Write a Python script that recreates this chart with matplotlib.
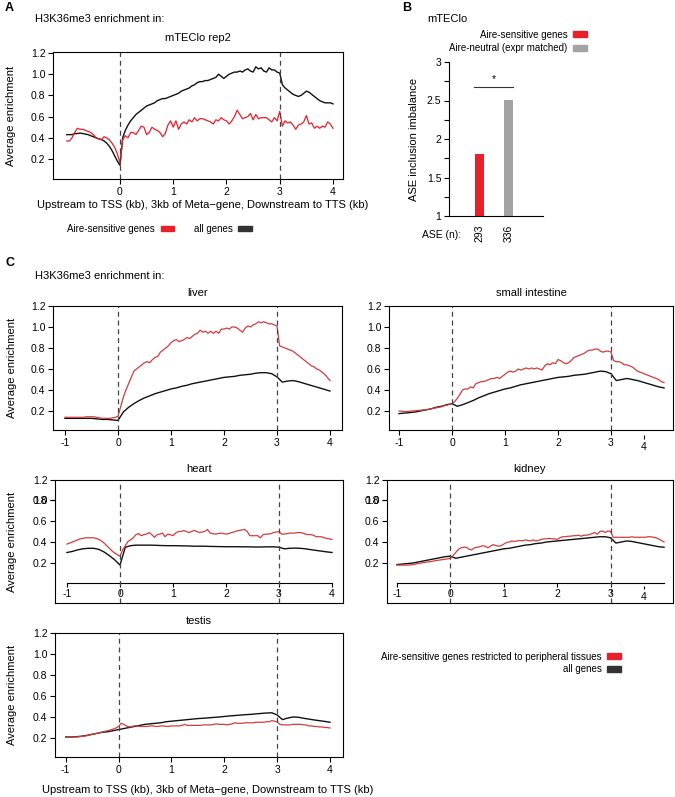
import numpy as np
import matplotlib.pyplot as plt
from matplotlib.patches import Patch

plt.rcParams['font.family'] = ['Liberation Sans', 'DejaVu Sans']
plt.rcParams['font.size'] = 7.5
plt.rcParams['axes.linewidth'] = 0.8
plt.rcParams['axes.unicode_minus'] = False

# bins along the meta-gene (kb): 1kb upstream, 3kb gene body, 1kb downstream
x_fine = np.round(np.arange(101) * 0.05 - 1, 2)
x_coarse = np.round(np.arange(51) * 0.1 - 1, 1)

# --- panel A: mTEClo rep2 (both series on the fine grid)
mtec_red = [0.37, 0.37, 0.40, 0.45, 0.49, 0.48, 0.48, 0.47, 0.46, 0.45, 0.43, 0.40, 0.39, 0.38, 0.41, 0.40, 0.38, 0.35, 0.31, 0.25, 0.16,
            0.38, 0.42, 0.40, 0.45, 0.45, 0.43, 0.47, 0.51, 0.50, 0.43, 0.45, 0.50, 0.48, 0.47, 0.45, 0.41, 0.44, 0.52, 0.56, 0.50,
            0.56, 0.48, 0.53, 0.55, 0.53, 0.57, 0.55, 0.59, 0.56, 0.58, 0.58, 0.57, 0.56, 0.55, 0.53, 0.57, 0.56, 0.59, 0.57, 0.56,
            0.53, 0.56, 0.60, 0.66, 0.62, 0.58, 0.59, 0.60, 0.63, 0.57, 0.62, 0.58, 0.59, 0.59, 0.59, 0.57, 0.55, 0.59, 0.56, 0.65,
            0.51, 0.56, 0.54, 0.55, 0.52, 0.48, 0.52, 0.53, 0.55, 0.61, 0.53, 0.54, 0.49, 0.51, 0.49, 0.51, 0.50, 0.55, 0.53, 0.49]
mtec_black = [0.43, 0.43, 0.43, 0.44, 0.44, 0.445, 0.44, 0.435, 0.43, 0.42, 0.41, 0.40, 0.39, 0.385, 0.37, 0.35, 0.32, 0.28, 0.23, 0.18, 0.14,
              0.40, 0.47, 0.52, 0.56, 0.59, 0.62, 0.64, 0.66, 0.68, 0.70, 0.71, 0.72, 0.73, 0.75, 0.76, 0.77, 0.77, 0.78, 0.79, 0.80,
              0.81, 0.82, 0.84, 0.85, 0.86, 0.87, 0.89, 0.90, 0.92, 0.93, 0.93, 0.94, 0.94, 0.95, 0.96, 0.97, 1.00, 0.98, 0.96, 0.98,
              1.00, 1.01, 1.02, 1.02, 1.03, 1.02, 1.04, 1.05, 1.03, 1.02, 1.07, 1.05, 1.06, 1.03, 1.02, 1.06, 1.04, 1.04, 1.02, 1.01,
              0.90, 0.87, 0.85, 0.83, 0.81, 0.80, 0.79, 0.80, 0.82, 0.84, 0.83, 0.81, 0.79, 0.77, 0.75, 0.74, 0.73, 0.73, 0.73, 0.72]

# --- panel B
ase_groups = ['Aire-sensitive genes', 'Aire-neutral (expr matched)']
ase_imbalance = [1.80, 2.51]
ase_n = ['293', '336']

# --- panel C: tissues (red on fine grid, black on coarse grid)
liver_red = [0.14, 0.14, 0.14, 0.14, 0.14, 0.14, 0.14, 0.14, 0.145, 0.145, 0.145, 0.145, 0.14, 0.135, 0.13, 0.13, 0.13, 0.13, 0.135, 0.14, 0.15,
             0.24, 0.33, 0.40, 0.46, 0.52, 0.58, 0.60, 0.62, 0.64, 0.66, 0.67, 0.66, 0.69, 0.71, 0.72, 0.76, 0.78, 0.80, 0.82, 0.85,
             0.87, 0.88, 0.86, 0.87, 0.88, 0.90, 0.89, 0.91, 0.93, 0.94, 0.97, 0.95, 0.96, 0.94, 0.96, 0.94, 0.96, 0.94, 0.98, 0.98,
             0.99, 0.98, 1.00, 1.00, 0.99, 0.97, 0.95, 0.99, 1.01, 1.00, 1.02, 1.03, 1.05, 1.04, 1.05, 1.04, 1.03, 1.03, 1.02, 1.01,
             0.82, 0.81, 0.80, 0.79, 0.78, 0.77, 0.75, 0.73, 0.71, 0.69, 0.67, 0.65, 0.63, 0.62, 0.60, 0.59, 0.57, 0.55, 0.52, 0.49]
liver_black = [0.13, 0.13, 0.13, 0.13, 0.13, 0.13, 0.125, 0.12, 0.12, 0.115, 0.11,
               0.19, 0.235, 0.27, 0.30, 0.325, 0.345, 0.365, 0.38, 0.395, 0.41,
               0.42, 0.435, 0.445, 0.46, 0.47, 0.48, 0.49, 0.50, 0.51, 0.52,
               0.525, 0.53, 0.54, 0.545, 0.55, 0.56, 0.565, 0.565, 0.555, 0.525,
               0.475, 0.485, 0.49, 0.48, 0.465, 0.45, 0.435, 0.42, 0.405, 0.39]

intestine_red = [0.20, 0.198, 0.195, 0.195, 0.198, 0.20, 0.202, 0.205, 0.207, 0.21, 0.21, 0.215, 0.22, 0.225, 0.23, 0.235, 0.24, 0.25, 0.255, 0.262, 0.27,
                 0.29, 0.32, 0.36, 0.40, 0.41, 0.41, 0.43, 0.42, 0.46, 0.47, 0.48, 0.48, 0.49, 0.50, 0.51, 0.51, 0.52, 0.51, 0.53, 0.55,
                 0.57, 0.58, 0.57, 0.58, 0.60, 0.59, 0.60, 0.61, 0.60, 0.61, 0.60, 0.61, 0.60, 0.59, 0.63, 0.65, 0.64, 0.66, 0.65, 0.69,
                 0.68, 0.66, 0.65, 0.66, 0.68, 0.71, 0.72, 0.73, 0.74, 0.75, 0.77, 0.78, 0.78, 0.79, 0.79, 0.77, 0.76, 0.77, 0.77, 0.76,
                 0.68, 0.67, 0.67, 0.66, 0.64, 0.64, 0.63, 0.62, 0.60, 0.58, 0.57, 0.56, 0.55, 0.54, 0.53, 0.52, 0.51, 0.50, 0.48, 0.47]
intestine_black = [0.175, 0.18, 0.185, 0.19, 0.20, 0.21, 0.22, 0.235, 0.245, 0.26, 0.27,
                   0.245, 0.26, 0.28, 0.30, 0.325, 0.345, 0.365, 0.38, 0.395, 0.41,
                   0.42, 0.435, 0.45, 0.46, 0.47, 0.48, 0.49, 0.50, 0.51, 0.52,
                   0.525, 0.53, 0.54, 0.545, 0.55, 0.56, 0.57, 0.58, 0.575, 0.555,
                   0.49, 0.50, 0.51, 0.50, 0.49, 0.475, 0.46, 0.445, 0.43, 0.42]

heart_red = [0.38, 0.39, 0.40, 0.41, 0.42, 0.43, 0.435, 0.44, 0.44, 0.44, 0.44, 0.435, 0.425, 0.41, 0.39, 0.365, 0.34, 0.315, 0.295, 0.28, 0.265,
             0.325, 0.365, 0.405, 0.42, 0.44, 0.47, 0.48, 0.46, 0.47, 0.475, 0.49, 0.47, 0.445, 0.47, 0.475, 0.485, 0.45, 0.475, 0.47, 0.46,
             0.485, 0.50, 0.50, 0.51, 0.50, 0.49, 0.50, 0.51, 0.50, 0.49, 0.495, 0.50, 0.52, 0.485, 0.48, 0.475, 0.48, 0.485, 0.48, 0.475,
             0.48, 0.49, 0.495, 0.505, 0.51, 0.515, 0.52, 0.50, 0.46, 0.46, 0.46, 0.46, 0.44, 0.47, 0.475, 0.475, 0.48, 0.49, 0.495, 0.50,
             0.475, 0.475, 0.48, 0.485, 0.485, 0.485, 0.49, 0.49, 0.485, 0.475, 0.47, 0.47, 0.465, 0.45, 0.45, 0.45, 0.44, 0.435, 0.43, 0.425]
heart_black = [0.30, 0.31, 0.325, 0.335, 0.34, 0.34, 0.33, 0.305, 0.27, 0.23, 0.18,
               0.35, 0.365, 0.37, 0.37, 0.37, 0.37, 0.368, 0.366, 0.365, 0.365,
               0.364, 0.363, 0.362, 0.36, 0.36, 0.36, 0.358, 0.357, 0.356, 0.355,
               0.355, 0.355, 0.354, 0.354, 0.353, 0.352, 0.353, 0.354, 0.354, 0.35,
               0.335, 0.34, 0.342, 0.34, 0.335, 0.327, 0.32, 0.313, 0.306, 0.30]

kidney_red = [0.18, 0.18, 0.18, 0.18, 0.18, 0.182, 0.185, 0.19, 0.195, 0.20, 0.205, 0.208, 0.212, 0.215, 0.22, 0.225, 0.228, 0.232, 0.236, 0.24, 0.245,
              0.27, 0.30, 0.33, 0.345, 0.35, 0.35, 0.33, 0.325, 0.345, 0.35, 0.355, 0.365, 0.36, 0.345, 0.36, 0.375, 0.365, 0.36, 0.365, 0.38,
              0.395, 0.40, 0.41, 0.405, 0.41, 0.415, 0.41, 0.42, 0.415, 0.41, 0.42, 0.41, 0.415, 0.425, 0.43, 0.43, 0.435, 0.43, 0.43, 0.425,
              0.44, 0.45, 0.45, 0.455, 0.455, 0.46, 0.46, 0.465, 0.455, 0.465, 0.465, 0.47, 0.48, 0.49, 0.475, 0.50, 0.505, 0.49, 0.505, 0.50,
              0.445, 0.445, 0.445, 0.445, 0.445, 0.445, 0.445, 0.45, 0.445, 0.445, 0.445, 0.445, 0.445, 0.45, 0.45, 0.445, 0.44, 0.43, 0.415, 0.40]
kidney_black = [0.185, 0.19, 0.195, 0.20, 0.21, 0.22, 0.23, 0.24, 0.25, 0.26, 0.265,
                0.245, 0.255, 0.265, 0.275, 0.285, 0.295, 0.305, 0.315, 0.325, 0.335,
                0.34, 0.35, 0.36, 0.37, 0.375, 0.385, 0.39, 0.40, 0.405, 0.41,
                0.415, 0.42, 0.425, 0.43, 0.435, 0.44, 0.445, 0.45, 0.45, 0.44,
                0.39, 0.40, 0.41, 0.405, 0.395, 0.385, 0.375, 0.365, 0.355, 0.35]

testis_red = [0.21, 0.21, 0.21, 0.21, 0.21, 0.212, 0.215, 0.218, 0.222, 0.228, 0.235, 0.24, 0.245, 0.252, 0.258, 0.265, 0.27, 0.278, 0.285, 0.295, 0.31,
              0.34, 0.33, 0.315, 0.305, 0.31, 0.315, 0.315, 0.31, 0.31, 0.31, 0.31, 0.315, 0.315, 0.31, 0.31, 0.315, 0.315, 0.31, 0.31, 0.315,
              0.315, 0.315, 0.315, 0.32, 0.33, 0.32, 0.32, 0.32, 0.32, 0.32, 0.32, 0.325, 0.325, 0.325, 0.325, 0.33, 0.335, 0.33, 0.33, 0.33,
              0.325, 0.33, 0.335, 0.345, 0.34, 0.34, 0.34, 0.345, 0.345, 0.345, 0.345, 0.35, 0.35, 0.35, 0.35, 0.355, 0.355, 0.365, 0.36, 0.355,
              0.33, 0.325, 0.325, 0.325, 0.325, 0.33, 0.33, 0.33, 0.33, 0.325, 0.325, 0.315, 0.315, 0.31, 0.31, 0.305, 0.305, 0.30, 0.30, 0.295]
testis_black = [0.21, 0.21, 0.212, 0.217, 0.225, 0.235, 0.245, 0.255, 0.26, 0.27, 0.28,
                0.29, 0.30, 0.31, 0.32, 0.33, 0.335, 0.34, 0.345, 0.355, 0.36,
                0.365, 0.37, 0.375, 0.38, 0.385, 0.388, 0.392, 0.396, 0.40, 0.405,
                0.41, 0.414, 0.418, 0.422, 0.425, 0.43, 0.434, 0.438, 0.44, 0.42,
                0.375, 0.39, 0.40, 0.398, 0.388, 0.38, 0.372, 0.365, 0.358, 0.35]

RED_A = '#e8202a'
RED_C = '#d23c3c'
BLACK = '#111111'
GREY_BAR = '#a3a3a3'
XLAB = 'Upstream to TSS (kb), 3kb of Meta\u2212gene, Downstream to TTS (kb)'

W, H = 675, 797
fig = plt.figure(figsize=(W / 100, H / 100), dpi=100)


def box(x0, y0, x1, y1):
    return fig.add_axes([x0 / W, 1 - y1 / H, (x1 - x0) / W, (y1 - y0) / H])


def lim(a, b, pa, va, pb, vb):
    k = (vb - va) / (pb - pa)
    return va + (a - pa) * k, va + (b - pa) * k


def profile(ax, px, red, black, red_color, xmap, ymap, ylab_x=None, title=None, title_y=None):
    x0, y0, x1, y1 = px
    ax.plot(x_coarse if len(black) == 51 else x_fine, black, color=BLACK, lw=1.0)
    ax.plot(x_fine, red, color=red_color, lw=0.9)
    ax.axvline(0, color='#444444', lw=0.9, ls=(0, (4, 3)))
    ax.axvline(3, color='#444444', lw=0.9, ls=(0, (4, 3)))
    ax.set_yticks([0.2, 0.4, 0.6, 0.8, 1.0, 1.2])
    ax.set_yticklabels(['0.2', '0.4', '0.6', '0.8', '1.0', '1.2'])
    ax.set_xlim(lim(x0, x1, xmap[0], -1, xmap[1], 4))
    ax.set_ylim(lim(y1, y0, ymap[0], 0.2, ymap[1], 1.2))
    ax.tick_params(length=3.5, width=0.8, pad=2, labelsize=7.5)
    if ylab_x is not None:
        ax.set_ylabel('Average enrichment', fontsize=8)
        ax.yaxis.set_label_coords((ylab_x - x0) / (x1 - x0), 0.5)
    if title:
        fig.text((x0 + x1) / 2 / W, 1 - title_y / H, title, ha='center', va='center', fontsize=8)


# ---------------- panel A
pA = (53, 52, 343, 179)
axA = box(*pA)
profile(axA, pA, mtec_red, mtec_black, RED_A, (66.75, 333), (159, 53), ylab_x=16,
        title='mTEClo rep2', title_y=38)
axA.set_xticks([0, 1, 2, 3, 4])
fig.text(5 / W, 1 - 8 / H, 'A', fontsize=9, fontweight='bold', va='center')
fig.text(35 / W, 1 - 19 / H, 'H3K36me3 enrichment in:', fontsize=8, va='center')
fig.text(203 / W, 1 - 205 / H, XLAB, fontsize=8, ha='center', va='center')
fig.legend([Patch(color=RED_A), Patch(color='#333333')], ['Aire-sensitive genes', 'all genes'],
           ncol=2, markerfirst=False, frameon=False, loc='center left',
           bbox_to_anchor=(67 / W, 1 - 229 / H), borderpad=0, borderaxespad=0,
           handlelength=1.4, handleheight=0.55, handletextpad=0.6, columnspacing=2.0, fontsize=7)

# ---------------- panel B
pB = (449, 62, 543, 216)
axB = box(*pB)
xb = [1, 2]
axB.bar(xb, ase_imbalance, width=0.3, color=[RED_A, GREY_BAR])
axB.set_xlim(lim(pB[0], pB[2], 479.5, 1, 508.5, 2))
axB.set_ylim(1, 3)
for s in ['top', 'right']:
    axB.spines[s].set_visible(False)
axB.set_yticks([1, 1.5, 2, 2.5, 3])
axB.set_yticklabels(['1', '1.5', '2', '2.5', '3'])
axB.set_yticks([1.25, 1.75, 2.25, 2.75], minor=True)
axB.tick_params(axis='y', which='both', length=3.5, width=0.8, pad=2, labelsize=7.5)
axB.set_xticks(xb)
axB.set_xticklabels(ase_n, rotation=90)
axB.tick_params(axis='x', length=0, pad=6, labelsize=7.5)
sig_y = 2.68
axB.plot([xb[0] - 0.19, xb[1] + 0.155], [sig_y, sig_y], color='#333333', lw=0.8)
axB.text(np.mean(xb), sig_y + 0.03, '*', ha='center', va='bottom', fontsize=7.5)
axB.set_ylabel('ASE inclusion imbalance', fontsize=8)
axB.yaxis.set_label_coords((419 - pB[0]) / (pB[2] - pB[0]), 0.5)
fig.text(402 / W, 1 - 8 / H, 'B', fontsize=9, fontweight='bold', va='center')
fig.text(427 / W, 1 - 19 / H, 'mTEClo', fontsize=8, va='center')
fig.text(422 / W, 1 - 235 / H, 'ASE (n):', fontsize=7.5, va='center')
fig.legend([Patch(color=RED_A), Patch(color=GREY_BAR)], ase_groups,
           markerfirst=False, frameon=False, loc='center right',
           bbox_to_anchor=(587 / W, 1 - 41.5 / H), borderpad=0, borderaxespad=0,
           handlelength=1.4, handleheight=0.55, handletextpad=0.6, labelspacing=0.35, fontsize=7)

# ---------------- panel C
fig.text(5 / W, 1 - 263 / H, 'C', fontsize=9, fontweight='bold', va='center')
fig.text(35 / W, 1 - 276 / H, 'H3K36me3 enrichment in:', fontsize=8, va='center')

pL = (53, 306, 342, 430)
axL = box(*pL)
profile(axL, pL, liver_red, liver_black, RED_C, (65, 330), (411, 306), ylab_x=17,
        title='liver', title_y=293)
axL.set_xticks([-1, 0, 1, 2, 3, 4])

pS = (389, 306, 673, 430)
axS = box(*pS)
profile(axS, pS, intestine_red, intestine_black, RED_C, (399, 664), (411, 306),
        title='small intestine', title_y=293)
axS.set_xticks([-1, 0, 1, 2, 3])
s4 = axS.secondary_xaxis(-5 / 124)
s4.spines['bottom'].set_visible(False)
s4.set_xticks([3.62])
s4.set_xticklabels(['4'])
s4.tick_params(length=3, width=0.8, pad=2, labelsize=7.5)

# heart and kidney: axis scale sits lower, inner x axis above the frame bottom
for px, red, black, xmap, ylx, name in [
        ((55, 480, 343, 603), heart_red, heart_black, (67, 332), 17, 'heart'),
        ((387, 480, 673, 603), kidney_red, kidney_black, (397, 664), None, 'kidney')]:
    ax = box(*px)
    profile(ax, px, red, black, RED_C, xmap, (563, 458), ylab_x=ylx, title=name, title_y=469)
    ylo, top = lim(px[3], px[1], 563, 0.2, 458, 1.2)
    ax.yaxis.remove_overlapping_locs = False
    ax.set_yticks([0.2, 0.4, 0.6, 0.8, top])
    ax.set_yticklabels(['0.2', '0.4', '0.6', '0.8', '1.2'])
    ax.set_yticks([0.8], minor=True)
    ax.set_yticklabels(['1.0'], minor=True)
    ax.set_ylim(ylo, top)
    ax.tick_params(axis='y', which='minor', length=3.5, width=0.8, pad=2, labelsize=7.5)
    ax.set_xticks([])
    inner = ax.secondary_xaxis(20 / 123)
    inner.spines['bottom'].set_bounds(-1, 4)
    inner.spines['bottom'].set_linewidth(0.8)
    inner.tick_params(length=3, width=0.8, pad=1.5, labelsize=7.5)
    if name == 'heart':
        inner.set_xticks([-1, 0, 1, 2, 3, 4])
    else:
        inner.set_xticks([-1, 0, 1, 2, 3])
        k4 = ax.secondary_xaxis(17 / 123)
        k4.spines['bottom'].set_visible(False)
        k4.set_xticks([3.62])
        k4.set_xticklabels(['4'])
        k4.tick_params(length=2.5, width=0.8, pad=2, labelsize=7.5)

pT = (55, 633, 343, 757)
axT = box(*pT)
profile(axT, pT, testis_red, testis_black, RED_C, (65.7, 330), (738, 633), ylab_x=17,
        title='testis', title_y=621)
axT.set_xticks([-1, 0, 1, 2, 3, 4])
fig.text(208 / W, 1 - 790 / H, XLAB, fontsize=8, ha='center', va='center')

fig.legend([Patch(color=RED_A), Patch(color='#333333')],
           ['Aire-sensitive genes restricted to peripheral tissues', 'all genes'],
           markerfirst=False, frameon=False, loc='center right',
           bbox_to_anchor=(621 / W, 1 - 663 / H), borderpad=0, borderaxespad=0,
           handlelength=1.4, handleheight=0.55, handletextpad=0.6, labelspacing=0.25, fontsize=7)

fig.savefig('out.png', dpi=100)
